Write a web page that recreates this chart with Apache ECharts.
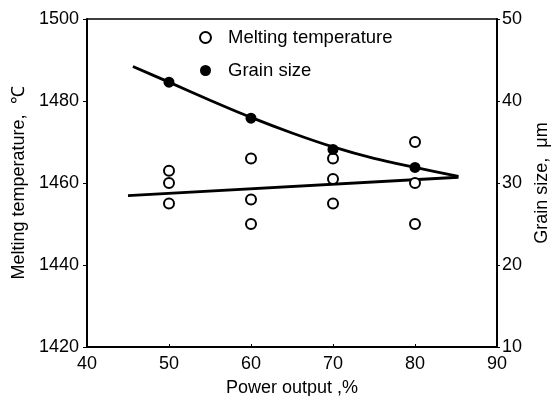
<!DOCTYPE html>
<html>
<head>
<meta charset="utf-8">
<script src="https://cdn.jsdelivr.net/npm/echarts@6/dist/echarts.min.js"></script>
<style>
  html, body { margin: 0; padding: 0; background: #fff; }
  #chart { width: 557px; height: 396px; }
</style>
</head>
<body>
<div id="chart"></div>
<script>
// power output (%) and measured values
const meltPower = [50, 50, 50, 60, 60, 60, 70, 70, 70, 80, 80, 80];
const meltTemp = [1463, 1460, 1455, 1466, 1456, 1450, 1466, 1461, 1455, 1470, 1460, 1450];
const grainPower = [50, 60, 70, 80];
const grainSize = [42.3, 37.9, 34.1, 31.9];
// fitted lines as drawn in the figure
const meltFitPower = [45, 85.3];
const meltFitTemp = [1456.9, 1461.4];
const grainFitPower = [45.6, 50, 55, 60, 65, 70, 75, 80, 85.3];
const grainFitSize = [44.2, 42.3, 40.1, 38.0, 36.1, 34.4, 33.0, 31.9, 30.8];

const pairs = (xs, ys) => xs.map((x, i) => [x, ys[i]]);

const chart = echarts.init(document.getElementById("chart"));
const font = "Liberation Sans, Arial, sans-serif";

const option = {
    animation: false,
    textStyle: { fontFamily: font, color: "#000" },
    grid: {
        left: 87, right: 60, top: 19, bottom: 49,
        outerBoundsMode: "none",
        show: true, borderColor: "#000", borderWidth: 1.5,
    },
    legend: {
        orient: "vertical",
        left: 194,
        top: 23,
        itemWidth: 11,
        itemHeight: 11,
        itemGap: 14,
        data: ["Melting temperature", "Grain size"],
        textStyle: { fontSize: 18.5, color: "#000", fontFamily: font, padding: [0, 0, 0, 12] },
    },
    xAxis: {
        type: "value",
        min: 40, max: 90, interval: 10,
        name: "Power output ,%",
        nameLocation: "middle",
        nameGap: 32,
        nameTextStyle: { fontSize: 18, color: "#000", verticalAlign: "top" },
        axisLine: { lineStyle: { color: "#000", width: 2 } },
        axisTick: { inside: true, length: 3, lineStyle: { color: "#000" } },
        axisLabel: { fontSize: 18, color: "#000", margin: 8 },
        splitLine: { show: false },
    },
    yAxis: [{
        type: "value",
        position: "left",
        min: 1420, max: 1500, interval: 20,
        name: "Melting temperature,  ℃",
        nameLocation: "middle",
        nameRotate: 90,
        nameGap: 58,
        nameTextStyle: { fontSize: 18, color: "#000" },
        axisLine: { show: true, lineStyle: { color: "#000", width: 2 } },
        axisTick: { length: 4, lineStyle: { color: "#000" } },
        axisLabel: { fontSize: 18, color: "#000", margin: 8, formatter: (v) => String(v) },
        splitLine: { show: false },
    }, {
        type: "value",
        position: "right",
        min: 10, max: 50, interval: 10,
        name: "Grain size,  μm",
        nameLocation: "middle",
        nameRotate: 90,
        nameGap: 36,
        nameTextStyle: { fontSize: 18, color: "#000" },
        axisLine: { show: true, lineStyle: { color: "#000", width: 2 } },
        axisTick: { length: 3, lineStyle: { color: "#000" } },
        axisLabel: { fontSize: 18, color: "#000", margin: 5 },
        splitLine: { show: false },
    }],
    series: [{
        name: "meltFit",
        type: "line",
        yAxisIndex: 0,
        data: pairs(meltFitPower, meltFitTemp),
        symbol: "none",
        lineStyle: { color: "#000", width: 2.8 },
        z: 2,
    }, {
        name: "grainFit",
        type: "line",
        yAxisIndex: 1,
        data: pairs(grainFitPower, grainFitSize),
        smooth: 0.3,
        symbol: "none",
        lineStyle: { color: "#000", width: 2.8 },
        z: 2,
    }, {
        name: "Melting temperature",
        type: "scatter",
        yAxisIndex: 0,
        data: pairs(meltPower, meltTemp),
        symbol: "emptyCircle",
        symbolSize: 10,
        itemStyle: { color: "#000", borderColor: "#000", borderWidth: 1.8, opacity: 1 },
        z: 5,
    }, {
        name: "Grain size",
        type: "scatter",
        yAxisIndex: 1,
        data: pairs(grainPower, grainSize),
        symbol: "circle",
        symbolSize: 11,
        itemStyle: { color: "#000", opacity: 1 },
        z: 5,
    }],
};

chart.setOption(option);
</script>
</body>
</html>
